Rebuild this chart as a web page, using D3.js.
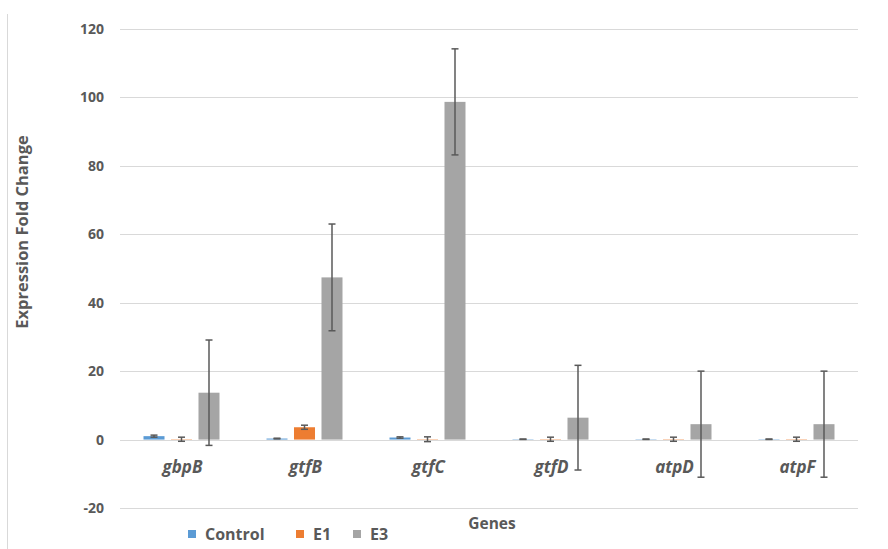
<!DOCTYPE html>
<html><head><meta charset="utf-8">
<script src="https://cdn.jsdelivr.net/npm/d3@7"></script>
<style>
html,body{margin:0;padding:0;background:#fff;}
text{font-family:"Open Sans","DejaVu Sans",sans-serif;}
</style></head>
<body><svg id="c" width="888" height="549"></svg>
<script>
const genes = ["gbpB","gtfB","gtfC","gtfD","atpD","atpF"];
const seriesNames = ["Control","E1","E3"];
const controlVals = [1.0, 0.3, 0.6, 0.1, 0.1, 0.1];
const controlErr  = [0.3, 0.1, 0.2, 0.05, 0.05, 0.05];
const e1Vals = [0.1, 3.6, 0.1, 0.1, 0.1, 0.1];
const e1Err  = [0.6, 0.6, 0.7, 0.6, 0.6, 0.6];
const e3Vals = [13.7, 47.4, 98.7, 6.4, 4.5, 4.5];
const e3Err  = [15.4, 15.6, 15.5, 15.3, 15.5, 15.5];
const yTicks = [-20, 0, 20, 40, 60, 80, 100, 120];
const colors = ["#5B9BD5","#ED7D31","#A5A5A5"];

const svg = d3.select("#c");
const mLeft = 120, mRight = 858, mTop = 29, mBottom = 508;

const y = d3.scaleLinear().domain([-20,120]).range([mBottom, mTop]);
const x0 = d3.scaleBand().domain(genes).range([mLeft, mRight]).padding(0);
const x1 = d3.scaleBand().domain(seriesNames).range([-38, 38]).paddingInner(0.236).paddingOuter(0);

// left border line
svg.append("line").attr("x1",7.5).attr("x2",7.5).attr("y1",14).attr("y2",549)
  .attr("stroke","#d9d9d9").attr("stroke-width",1);

// gridlines
svg.append("g").selectAll("line").data(yTicks).join("line")
  .attr("x1", mLeft).attr("x2", mRight)
  .attr("y1", d => Math.round(y(d))+0.5).attr("y2", d => Math.round(y(d))+0.5)
  .attr("stroke", "#d9d9d9").attr("stroke-width", 1);

// y axis labels
const yAxis = d3.axisLeft(y).tickValues(yTicks).tickSize(0).tickPadding(0)
  .tickFormat(d => String(d));
const ga = svg.append("g").attr("transform", `translate(104,0)`).call(yAxis);
ga.select(".domain").remove();
ga.selectAll("text").attr("font-size", 14).attr("font-weight", "bold")
  .attr("fill", "#595959").attr("font-family", '"Open Sans",sans-serif');

const data = [];
genes.forEach((g,i) => {
  data.push({g, s:"Control", v:controlVals[i], e:controlErr[i], c:colors[0]});
  data.push({g, s:"E1", v:e1Vals[i], e:e1Err[i], c:colors[1]});
  data.push({g, s:"E3", v:e3Vals[i], e:e3Err[i], c:colors[2]});
});

const cx = d => x0(d.g) + x0.bandwidth()/2 + x1(d.s);

svg.append("g").selectAll("rect").data(data).join("rect")
  .attr("x", d => cx(d))
  .attr("width", x1.bandwidth())
  .attr("y", d => y(Math.max(0,d.v)))
  .attr("height", d => Math.abs(y(d.v) - y(0)))
  .attr("fill", d => d.c);

// error bars
const eb = svg.append("g").attr("stroke", "#595959").attr("stroke-width", 1.5);
data.forEach(d => {
  const mx = cx(d) + x1.bandwidth()/2;
  const y1 = y(d.v + d.e), y2 = y(d.v - d.e);
  eb.append("line").attr("x1", mx).attr("x2", mx).attr("y1", y1).attr("y2", y2);
  eb.append("line").attr("x1", mx-3.5).attr("x2", mx+3.5).attr("y1", y1).attr("y2", y1);
  eb.append("line").attr("x1", mx-3.5).attr("x2", mx+3.5).attr("y1", y2).attr("y2", y2);
});

// category labels
svg.append("g").selectAll("text").data(genes).join("text")
  .attr("x", d => x0(d) + x0.bandwidth()/2 + 1)
  .attr("y", 473)
  .attr("text-anchor", "middle")
  .attr("font-size", 17).attr("font-weight", "bold").attr("font-style", "italic")
  .attr("fill", "#595959")
  .text(d => d);

// axis titles
svg.append("text").attr("transform", "translate(28,232) rotate(-90)")
  .attr("text-anchor", "middle").attr("font-size", 16.5).attr("font-weight", "bold")
  .attr("fill", "#595959").text("Expression Fold Change");
svg.append("text").attr("x", 492).attr("y", 529)
  .attr("text-anchor", "middle").attr("font-size", 15.5).attr("font-weight", "bold")
  .attr("fill", "#595959").text("Genes");

// legend
const legendX = [188, 296, 353];
const lg = svg.append("g").selectAll("g").data(seriesNames).join("g")
  .attr("transform", (d,i) => `translate(${legendX[i]},530)`);
lg.append("rect").attr("width", 8).attr("height", 8).attr("fill", (d,i) => colors[i]);
lg.append("text").attr("x", 17).attr("y", 10).attr("font-size", 16).attr("font-weight", "bold")
  .attr("fill", "#595959").text(d => d);
</script></body></html>
